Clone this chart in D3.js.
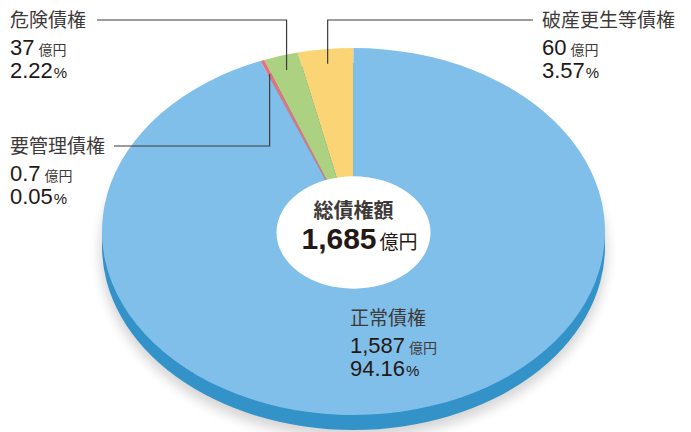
<!DOCTYPE html>
<html>
<head>
<meta charset="utf-8">
<script src="https://cdn.jsdelivr.net/npm/d3@7"></script>
<style>
  body { margin: 0; background: #fff; }
  text { font-family: "Liberation Sans", "Noto Sans CJK JP", sans-serif; fill: #231815; }
</style>
</head>
<body>
<div id="chart"></div>
<script>
// Data (slices go counter-clockwise from 12 o'clock)
const categories = ["破産更生等債権", "危険債権", "要管理債権", "正常債権"];
const amounts = ["60", "37", "0.7", "1,587"];
const shares = [3.57, 2.22, 0.05, 94.16];
const colors = ["#fbd475", "#acd281", "#ea707c", "#80bfea"];
const totalLabel = "総債権額";
const totalAmount = "1,685";
const unit = "億円";

// Label layout: x, baseline of first line, and where the leader turns
const labelPos = [
    { x: 542, y: 27, lineX: 533, lineY: 20 },
    { x: 10, y: 27, lineX: 97, lineY: 20 },
    { x: 10, y: 153, lineX: 114, lineY: 146 },
    { x: 350, y: 325, lineX: null }
];

const width = 691, height = 432;
const cx = 353.5, cy = 231.5, rx = 251.5, ry = 183.5, depth = 15, holeR = 77;

const svg = d3.select("#chart")
    .append("svg")
    .attr("width", width)
    .attr("height", height);

const defs = svg.append("defs");
defs.append("filter")
    .attr("id", "blur")
    .attr("x", "-20%").attr("y", "-20%").attr("width", "140%").attr("height", "140%")
    .append("feGaussianBlur")
    .attr("stdDeviation", 6);

// Soft shadow and the dark side of the disc
svg.append("ellipse")
    .attr("cx", cx).attr("cy", cy + depth + 6)
    .attr("rx", rx + 2).attr("ry", ry + 2)
    .attr("fill", "#000")
    .attr("opacity", 0.16)
    .attr("filter", "url(#blur)");

svg.append("ellipse")
    .attr("cx", cx).attr("cy", cy + depth)
    .attr("rx", rx).attr("ry", ry)
    .attr("fill", "#3393c8");

// tiny slice is widened a little so it stays visible, like in the print
const data = categories.map((c, i) => ({
    name: c, amount: amounts[i], share: shares[i], color: colors[i],
    display: Math.max(shares[i], 0.25)
}));

const pie = d3.pie()
    .sort(null)
    .value(d => d.display)
    .startAngle(0)
    .endAngle(-2 * Math.PI);

const arcs = pie(data);
const arc = d3.arc().innerRadius(0).outerRadius(rx);

const face = svg.append("g")
    .attr("transform", `translate(${cx},${cy}) scale(1,${ry / rx})`);

face.selectAll("path")
    .data(arcs)
    .enter()
    .append("path")
    .attr("d", arc)
    .attr("fill", d => d.data.color);

// White centre
svg.append("ellipse")
    .attr("cx", cx).attr("cy", cy + 1)
    .attr("rx", holeR).attr("ry", holeR * ry / rx)
    .attr("fill", "#fff");

// Leader lines from slice to label
arcs.forEach((a, i) => {
    const p = labelPos[i];
    if (p.lineX == null) return;
    const mid = (a.startAngle + a.endAngle) / 2;
    const ax = cx + rx * 0.92 * Math.sin(mid);
    const ay = cy - ry * 0.92 * Math.cos(mid);
    svg.append("polyline")
        .attr("points", `${p.lineX},${p.lineY} ${ax},${p.lineY} ${ax},${ay}`)
        .attr("fill", "none")
        .attr("stroke", "#3e3a39")
        .attr("stroke-width", 1.2);
});

// Labels
data.forEach((d, i) => {
    const p = labelPos[i];
    const g = svg.append("g");
    g.append("text")
        .attr("x", p.x).attr("y", p.y)
        .style("font-size", "19px")
        .style("fill", "#3e3a39")
        .text(d.name);
    const t2 = g.append("text")
        .attr("x", p.x).attr("y", p.y + 28)
        .style("font-size", "22px");
    t2.append("tspan").text(d.amount);
    t2.append("tspan").attr("dx", 4).style("font-size", "14px").style("fill", "#3e3a39").text(unit);
    const t3 = g.append("text")
        .attr("x", p.x).attr("y", p.y + 51)
        .style("font-size", "22px");
    t3.append("tspan").text(d.share.toFixed(2));
    t3.append("tspan").attr("dx", 1).style("font-size", "15px").text("%");
});

// Total in the centre
svg.append("text")
    .attr("x", cx).attr("y", 218)
    .attr("text-anchor", "middle")
    .style("font-size", "20px")
    .style("font-weight", "bold")
    .style("fill", "#3e3a39")
    .text(totalLabel);

const tot = svg.append("text")
    .attr("x", cx + 6).attr("y", 249)
    .attr("text-anchor", "middle");
tot.append("tspan").style("font-size", "30px").style("font-weight", "bold").text(totalAmount);
tot.append("tspan").attr("dx", 3).style("font-size", "19px").text(unit);
</script>
</body>
</html>
